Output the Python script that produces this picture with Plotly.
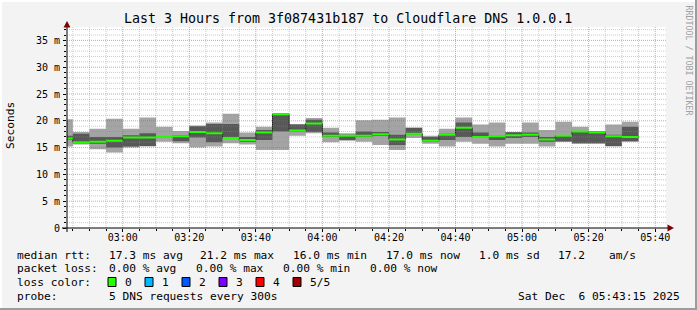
import plotly.graph_objects as go
import datetime as dt

# ---------------- data ----------------
DAY = "2025-12-06 "
seg_start = ["02:43:15", "02:45", "02:50", "02:55",
             "03:00", "03:05", "03:10", "03:15", "03:20", "03:25", "03:30", "03:35",
             "03:40", "03:45", "03:50", "03:55",
             "04:00", "04:05", "04:10", "04:15", "04:20", "04:25", "04:30", "04:35",
             "04:40", "04:45", "04:50", "04:55",
             "05:00", "05:05", "05:10", "05:15", "05:20", "05:25", "05:30"]
seg_end = "05:35"

ping_min = [15.2, 15.6, 14.7, 14.1, 15.0, 15.2, 16.1, 15.8, 15.0, 15.2, 15.8, 15.6, 14.55, 14.55, 17.2,
            17.7, 16.0, 16.3, 16.1, 15.5, 14.55, 16.8, 15.7, 15.2, 16.1, 15.7, 15.2, 15.7, 15.7, 15.2,
            16.1, 15.7, 15.7, 15.2, 16.1]
ping_q1 = [16.4, 15.8, 15.7, 15.0, 15.2, 15.3, 16.8, 16.2, 16.9, 16.0, 16.6, 16.1, 16.4, 18.0, 18.0,
           17.9, 17.0, 16.4, 17.0, 17.2, 15.5, 17.5, 16.1, 16.4, 17.0, 16.9, 16.4, 16.8, 17.0, 16.1,
           16.15, 15.8, 15.8, 15.3, 16.2]
median = [16.7, 16.0, 16.1, 16.3, 16.9, 16.9, 17.0, 17.1, 17.9, 17.7, 16.8, 16.4, 17.8, 21.2, 18.2,
          19.5, 17.2, 17.2, 17.2, 17.5, 16.5, 17.6, 16.3, 17.4, 18.7, 17.0, 17.1, 17.3, 17.4, 16.5,
          17.2, 18.0, 17.8, 17.1, 17.0]
ping_q3 = [17.2, 17.6, 17.0, 17.0, 17.3, 17.7, 17.1, 17.3, 19.0, 19.4, 19.4, 17.0, 18.3, 21.3, 19.3,
           20.2, 17.8, 17.4, 18.0, 17.9, 17.4, 18.7, 17.0, 17.6, 19.7, 17.8, 17.15, 17.85, 17.8, 17.0,
           17.35, 18.1, 18.0, 17.4, 18.9]
ping_max = [20.3, 17.9, 18.5, 20.4, 18.5, 20.6, 18.9, 18.1, 19.1, 19.7, 21.3, 17.8, 18.9, 21.4, 19.4,
            20.5, 18.7, 17.7, 20.1, 20.2, 20.6, 18.7, 17.2, 18.5, 20.6, 19.3, 19.7, 17.9, 19.7, 18.3,
            19.8, 18.9, 18.1, 19.3, 19.8]

y_tick_vals = [0, 5, 10, 15, 20, 25, 30, 35]
y_tick_text = ["0", "5 m", "10 m", "15 m", "20 m", "25 m", "30 m", "35 m"]

title_text = "Last 3 Hours from 3f087431b187 to Cloudflare DNS 1.0.0.1"
rtt_items = ["17.3 ms avg", "21.2 ms max", "16.0 ms min", "17.0 ms now", "1.0 ms sd", "17.2", "am/s"]
loss_items = ["0.00 % avg", "0.00 % max", "0.00 % min", "0.00 % now"]
loss_labels = ["0", "1", "2", "3", "4", "5/5"]
loss_colors = ["#26ff00", "#00b8ff", "#0059ff", "#7e00ff", "#ff0000", "#a10000"]
probe_text = "5 DNS requests every 300s"
stamp_text = "Sat Dec  6 05:43:15 2025"

# ---------------- geometry / style ----------------
W, H = 697, 310
PL, PR, PT, PB = 67, 666, 27, 228
T0, T1 = DAY + "02:43:15", DAY + "05:43:15"
Y_TOP = 37.5
SW = Y_TOP / (PB - PT)  # half thickness of median band (1 px)
FONT = "DejaVu Sans Mono"
rtt_x = [108, 199, 292, 385, 478, 557, 608]
loss_x = [108, 195, 282, 369]
sq_left = [108, 145, 182, 219, 256, 293]


def pxx(x):
    return (x - PL) / (PR - PL)


def pxy(y):
    return (PB - y) / (PB - PT)


def nb(s):
    return s.replace(" ", "\u00a0")


xs = [DAY + t for t in seg_start] + [DAY + seg_end]


def ext(v):
    return list(v) + [v[-1]]


fig = go.Figure()


def band(lo, hi, color):
    fig.add_trace(go.Scatter(x=xs, y=ext(lo), mode="lines", line=dict(width=0, shape="hv"),
                             hoverinfo="skip", showlegend=False))
    fig.add_trace(go.Scatter(x=xs, y=ext(hi), mode="lines", line=dict(width=0, shape="hv"),
                             fill="tonexty", fillcolor=color, hoverinfo="skip", showlegend=False))


band(ping_min, ping_max, "#a4a4a4")
band(ping_q1, ping_q3, "#585858")
fig.add_trace(go.Scatter(x=xs, y=ext(median), mode="lines", line=dict(width=1, shape="hv", color="#202020"),
                         hoverinfo="skip", showlegend=False))
band([m - SW for m in median], [m + SW for m in median], loss_colors[0])

# ---------------- grid (drawn over data like rrdtool) ----------------
shapes = []
t0 = dt.datetime(2025, 12, 6, 2, 45)
for k in range(0, 36):
    t = t0 + dt.timedelta(minutes=5 * k)
    major = (t.minute % 20 == 0)
    shapes.append(dict(type="line", xref="x", yref="paper", x0=t, x1=t, y0=0, y1=1, layer="above",
                       line=dict(width=1, dash="1px,1px",
                                 color="rgba(240,60,60,0.55)" if major else "rgba(140,140,140,0.45)")))
for v in range(1, 38):
    major = (v % 5 == 0)
    shapes.append(dict(type="line", xref="paper", yref="y", x0=0, x1=1, y0=v, y1=v, layer="above",
                       line=dict(width=1, dash="1px,1px",
                                 color="rgba(240,60,60,0.55)" if major else "rgba(140,140,140,0.45)")))

# axes lines
shapes.append(dict(type="line", xref="paper", yref="paper", x0=pxx(62), x1=pxx(668), y0=0, y1=0,
                   line=dict(width=1, color="#000000"), layer="above"))
shapes.append(dict(type="line", xref="paper", yref="paper", x0=0, x1=0, y0=pxy(232), y1=pxy(26),
                   line=dict(width=1, color="#000000"), layer="above"))
# arrows
shapes.append(dict(type="path", xref="paper", yref="paper",
                   path=f"M {pxx(67)} {pxy(21)} L {pxx(63.5)} {pxy(27.5)} L {pxx(70.5)} {pxy(27.5)} Z",
                   fillcolor="#7f0000", line=dict(width=0), layer="above"))
shapes.append(dict(type="path", xref="paper", yref="paper",
                   path=f"M {pxx(674)} {pxy(228)} L {pxx(667.5)} {pxy(224.5)} L {pxx(667.5)} {pxy(231.5)} Z",
                   fillcolor="#7f0000", line=dict(width=0), layer="above"))
# frame
shapes.append(dict(type="rect", xref="paper", yref="paper", x0=pxx(695), x1=pxx(697), y0=pxy(310), y1=pxy(0),
                   fillcolor="#9c9c9c", line=dict(width=0)))
shapes.append(dict(type="rect", xref="paper", yref="paper", x0=pxx(0), x1=pxx(697), y0=pxy(310), y1=pxy(308),
                   fillcolor="#9c9c9c", line=dict(width=0)))
shapes.append(dict(type="rect", xref="paper", yref="paper", x0=pxx(0), x1=pxx(695), y0=pxy(2), y1=pxy(0),
                   fillcolor="#ffffff", line=dict(width=0)))
shapes.append(dict(type="rect", xref="paper", yref="paper", x0=pxx(0), x1=pxx(2), y0=pxy(308), y1=pxy(0),
                   fillcolor="#ffffff", line=dict(width=0)))

# loss colour squares
for xl, c in zip(sq_left, loss_colors):
    shapes.append(dict(type="rect", xref="paper", yref="paper", x0=pxx(xl), x1=pxx(xl + 8),
                       y0=pxy(286.5), y1=pxy(277.5), fillcolor=c, line=dict(width=1, color="#000000")))

ann = []


def text(x, y, s, size=11.2, anchor="left", color="#000000", angle=0):
    ann.append(dict(x=pxx(x), y=pxy(y), xref="paper", yref="paper", text=nb(s), showarrow=False,
                    xanchor=anchor, yanchor="middle", textangle=angle, borderpad=0,
                    font=dict(family=FONT, size=size, color=color)))


text(347.5, 19, title_text, size=13.3, anchor="center")
text(10, 126, "Seconds", size=11.2, anchor="center", angle=-90)
text(688.5, 60, "RRDTOOL / TOBI OETIKER", size=8.3, anchor="center", color="#a0a0a0", angle=90)
text(16, 255, "median rtt:")
for x, s in zip(rtt_x, rtt_items):
    text(x, 255, s)
text(16, 268.5, "packet loss:")
for x, s in zip(loss_x, loss_items):
    text(x, 268.5, s)
text(16, 282, "loss color:")
for xl, lab in zip(sq_left, loss_labels):
    text(xl + 16, 282, lab)
text(16, 296, "probe:")
text(108, 296, probe_text)
text(681, 296, stamp_text, anchor="right")

fig.update_layout(
    width=W, height=H,
    margin=dict(l=PL, r=W - PR, t=PT, b=H - PB),
    paper_bgcolor="#f3f3f3", plot_bgcolor="#ffffff",
    showlegend=False,
    font=dict(family=FONT, size=10, color="#000000"),
    shapes=shapes, annotations=ann,
    xaxis=dict(type="date", range=[T0, T1], tickformat="%H:%M", tick0=DAY + "03:00",
               dtick=20 * 60 * 1000, showgrid=False, zeroline=False, showline=False,
               ticks="outside", ticklen=3, tickcolor="#000000", tickfont=dict(size=10),
               ticklabelstandoff=-3,
               minor=dict(dtick=5 * 60 * 1000, ticks="outside", ticklen=2, tickcolor="#000000", showgrid=False),
               fixedrange=True),
    yaxis=dict(range=[0, Y_TOP], tickvals=y_tick_vals, ticktext=y_tick_text, showgrid=False,
               zeroline=False, showline=False, ticks="outside", ticklen=3, tickcolor="#000000",
               tickfont=dict(size=10), ticklabelstandoff=1,
               minor=dict(dtick=1, ticks="outside", ticklen=2, tickcolor="#000000", showgrid=False),
               fixedrange=True),
)

fig.write_html("out.html")
